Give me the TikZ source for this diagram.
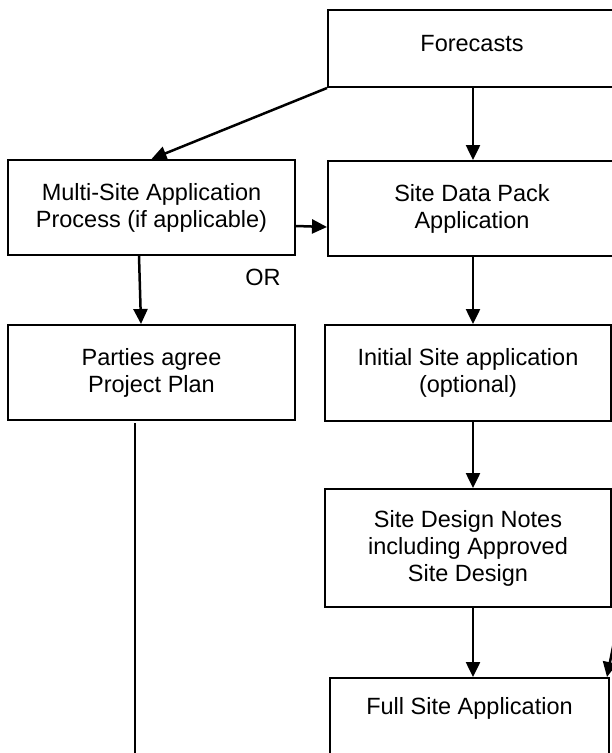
\documentclass[tikz,border=0pt]{standalone}
\usepackage{fontspec}
\setmainfont{Liberation Sans}
\usetikzlibrary{arrows.meta}
\begin{document}
\begin{tikzpicture}[x=1pt,y=-1pt,
  box/.style={draw=black, line width=2pt, inner sep=0pt, align=center,
    font=\fontsize{23.5}{27}\selectfont},
  txt/.style={inner sep=0pt, align=center, font=\fontsize{23.5}{27}\selectfont},
  arr/.style={draw=black, line width=2.5pt, -{Triangle[length=15pt,width=14pt]}},
  plain/.style={draw=black, line width=2.5pt}]
\useasboundingbox (0,0) rectangle (612,753);
\clip (0,0) rectangle (612,753);
\fill[white] (0,0) rectangle (612,753);
% boxes
\node[box, minimum width=288pt, minimum height=77pt] (fc) at (472,48.5) {\raisebox{10pt}{Forecasts}};
\node[box, minimum width=287pt, minimum height=95pt] (ms) at (151.5,207.5) {Multi-Site Application\\Process (if applicable)};
\node[box, minimum width=288pt, minimum height=95pt] (sdp) at (472,208.5) {Site Data Pack\\Application};
\node[box, minimum width=287pt, minimum height=95pt] (pp) at (151.5,372.5) {Parties agree\\Project Plan};
\node[box, minimum width=286pt, minimum height=96pt] (init) at (468,373) {Initial Site application\\(optional)};
\node[box, minimum width=286pt, minimum height=118pt] (sdn) at (468,548) {Site Design Notes\\including Approved\\Site Design};
\node[box, minimum width=279pt, minimum height=130pt, anchor=north] (full) at (469.5,677) {};
\node[txt] (fulltxt) at (469.5,708) {Full Site Application};
\node[txt] (or) at (263,277) {OR};
% connectors
\draw[arr] (fc.south -| sdp.north) ++(1,0) coordinate (a1) -- (a1 |- sdp.north);
\draw[arr] (fc.south west) -- (ms.north);
\draw[arr] ([yshift=-18.5pt]ms.east) -- ([yshift=-18.5pt]sdp.west);
\draw[arr] ([xshift=-12.5pt]ms.south) -- ([xshift=-10.5pt]pp.north);
\draw[arr] ([xshift=1pt]sdp.south) -- ([xshift=5pt]init.north);
\draw[arr] ([xshift=5pt]init.south) -- ([xshift=5pt]sdn.north);
\draw[arr] ([xshift=5pt]sdn.south) -- ([xshift=3.5pt]full.north);
\coordinate (rin) at (614,642);
\draw[arr] (rin) -- ([xshift=-3pt]full.north east);
\coordinate (pend) at (135,760);
\draw[plain] ([xshift=-16.5pt,yshift=-2pt]pp.south) -- (pend);
\end{tikzpicture}
\end{document}
